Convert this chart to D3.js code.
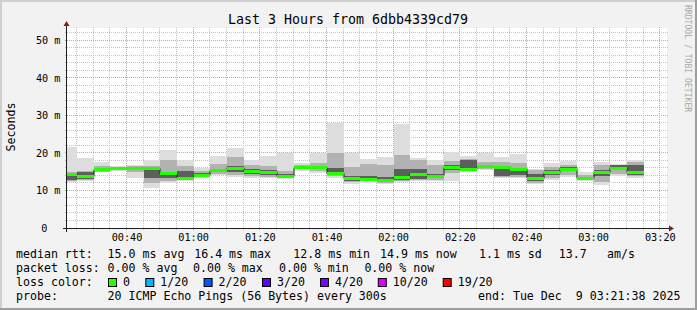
<!DOCTYPE html>
<html><head><meta charset="utf-8">
<script src="https://cdn.jsdelivr.net/npm/d3@7"></script>
<style>
html,body{margin:0;padding:0;background:#f2f2f2;}
svg{display:block;}
text{font-family:"DejaVu Sans Mono",monospace;fill:#000;white-space:pre;}
</style></head><body>
<svg id="c" width="697" height="310"></svg>
<script>
// ---------- data ----------
const title = "Last 3 Hours from 6dbb4339cd79";
const yLabel = "Seconds";
const watermark = "RRDTOOL / TOBI OETIKER";
const rangeStart = "00:22";
const rangeEnd = "03:22";
const binStarts = ["00:20","00:25","00:30","00:35","00:40","00:45","00:50","00:55",
  "01:00","01:05","01:10","01:15","01:20","01:25","01:30","01:35","01:40","01:45","01:50","01:55",
  "02:00","02:05","02:10","02:15","02:20","02:25","02:30","02:35","02:40","02:45","02:50","02:55",
  "03:00","03:05","03:10"];
const binMinutes = 5;
// median rtt (ms)
const median  = [14.4,13.8,15.7,15.9,15.9,15.9,14.6,13.4,14.1,15.4,16.0,15.1,15.0,13.8,16.2,16.2,14.6,13.3,13.1,12.8,13.7,14.4,13.9,16.2,15.8,16.4,16.2,15.8,13.2,14.9,15.8,13.2,14.9,16.0,14.9];
// smoke: outer (min/max ping), middle and inner ping bands (ms)
const outerHi = [21.6,18.7,17.6,16.5,16.7,18.0,20.8,18.1,15.9,19.2,21.4,18.1,19.2,19.9,17.2,20.0,28.0,20.0,18.5,18.9,27.6,18.7,18.2,20.2,19.1,20.0,18.8,19.8,15.8,17.3,17.9,15.0,17.7,17.1,18.2];
const outerLo = [12.2,12.4,14.8,15.2,13.2,10.7,12.0,12.4,13.2,14.1,13.6,13.3,13.2,13.1,15.3,14.7,13.4,11.7,12.0,11.7,12.3,12.4,12.6,12.6,15.0,15.5,13.2,13.2,11.7,12.9,13.7,12.5,11.4,13.8,13.3];
const midHi   = [15.0,15.3,16.4,16.3,16.4,16.5,18.2,16.4,15.2,17.0,19.0,16.9,16.5,15.2,16.8,17.3,20.0,16.2,17.0,16.8,19.4,18.2,16.9,17.8,18.5,17.5,17.7,17.3,15.4,16.2,16.8,14.2,16.8,16.9,17.6];
const midLo   = [12.5,12.7,15.0,15.4,14.8,12.0,12.6,12.8,13.5,14.4,14.2,13.8,13.7,13.4,15.6,15.2,13.9,12.2,12.4,12.1,12.6,12.8,12.9,14.6,15.3,15.8,13.5,13.6,12.1,13.3,14.2,12.8,12.2,14.4,13.8];
const innerHi = [14.6,14.9,16.0,16.1,16.1,16.0,15.0,15.2,14.6,15.8,16.6,15.6,15.4,14.3,16.5,16.6,16.0,13.8,13.8,13.5,15.6,15.6,14.5,16.8,18.2,16.9,16.3,15.9,14.4,15.4,16.2,13.6,15.4,16.9,16.8];
const innerLo = [12.8,13.0,15.2,15.6,15.5,13.4,13.3,13.1,13.8,14.8,14.9,14.4,14.0,13.6,15.9,15.6,14.2,12.6,12.7,12.4,12.9,13.0,13.2,15.4,15.6,16.0,13.8,14.2,12.6,14.1,15.3,13.0,13.8,15.6,14.2];
const yMax = 53.333;
const yTicks = [0,10,20,30,40,50];
const lossLabels = ["0","1/20","2/20","3/20","4/20","10/20","19/20"];
const lossColors = ["#26ff00","#00b8ff","#0059ff","#5e00ff","#7e00ff","#dd00ff","#ff0000"];
const legendRows = [
  [["median rtt:",16],["15.0 ms avg",107.6],["16.4 ms max",194.2],["12.8 ms min",293.3],["14.9 ms now",380],["1.1 ms sd",479],["13.7",558.7],["am/s",607]],
  [["packet loss:",16],["0.00 % avg",107.6],["0.00 % max",193],["0.00 % min",279],["0.00 % now",364.4]],
  [["loss color:",16]],
  [["probe:",16],["20 ICMP Echo Pings (56 Bytes) every 300s",107.6],["end: Tue Dec  9 03:21:38 2025",478]]
];
const lossBoxX = [108,145.3,203.6,262,320,377.8,442.7];

// ---------- layout ----------
const W=697,H=310, X0=67, X1=667, Y0=228, Y1=28;
const svg = d3.select("#c");
const parse = s => { const [h,m]=s.split(":").map(Number); return new Date(2025,11,9,h,m,0); };
const x = d3.scaleTime().domain([parse(rangeStart),parse(rangeEnd)]).range([X0,X1]);
const y = d3.scaleLinear().domain([0,yMax]).range([Y0,Y1]);
const sx = v => Math.floor(v-0.5)+0.5;
const sy = v => Math.floor(v)+0.5;

// background + 3d border
svg.append("rect").attr("width",W).attr("height",H).attr("fill","#f2f2f2");
svg.append("path").attr("d",`M0,0H${W}V2H2V${H}H0Z`).attr("fill","#cfcfcf");
svg.append("path").attr("d",`M${W},${H}H0V${H-2}H${W-2}V0H${W}Z`).attr("fill","#9e9e9e");
// canvas
svg.append("rect").attr("x",X0).attr("y",Y1).attr("width",X1-X0).attr("height",Y0-Y1).attr("fill","#fff");

// grid
const g = svg.append("g");
const t0 = parse(rangeStart), t1 = parse(rangeEnd);
const minorT = d3.timeMinute.every(5).range(t0,t1).filter(t=>t.getMinutes()%20!==0);
const majorT = d3.timeMinute.every(20).range(t0,t1);
const minorY = d3.range(2,yMax,2).filter(v=>v%10!==0);
const majorY = d3.range(10,yMax,10);
g.selectAll(".vmin").data(minorT).join("line")
  .attr("x1",d=>sx(x(d))).attr("x2",d=>sx(x(d))).attr("y1",Y0+2).attr("y2",Y1-2)
  .attr("stroke","#c4c4c4").attr("stroke-dasharray","1,1");
g.selectAll(".hmin").data(minorY).join("line")
  .attr("y1",d=>sy(y(d))).attr("y2",d=>sy(y(d))).attr("x1",X0-2).attr("x2",X1+2)
  .attr("stroke","#c4c4c4").attr("stroke-dasharray","1,1");
g.selectAll(".vmaj").data(majorT).join("line")
  .attr("x1",d=>sx(x(d))).attr("x2",d=>sx(x(d))).attr("y1",Y0+2).attr("y2",Y1-2)
  .attr("stroke","#eb9595").attr("stroke-dasharray","1,1");
g.selectAll(".hmaj").data(majorY).join("line")
  .attr("y1",d=>sy(y(d))).attr("y2",d=>sy(y(d))).attr("x1",X0-2).attr("x2",X1+2)
  .attr("stroke","#eb9595").attr("stroke-dasharray","1,1");

// smoke
svg.append("clipPath").attr("id","plot").append("rect").attr("x",X0).attr("y",Y1).attr("width",X1-X0).attr("height",Y0-Y1);
const plot = svg.append("g").attr("clip-path","url(#plot)");
const bins = binStarts.map((s,i)=>{ const a=parse(s); return {i,a,b:d3.timeMinute.offset(a,binMinutes)}; });
const layers = [[outerLo,outerHi,"#dddddd"],[midLo,midHi,"#b2b2b2"],[innerLo,innerHi,"#5e5e5e"]];
layers.forEach(([lo,hi,col])=>{
  plot.append("g").selectAll("rect").data(bins).join("rect")
    .attr("x",d=>Math.round(x(d.a))).attr("width",d=>Math.round(x(d.b))-Math.round(x(d.a)))
    .attr("y",d=>Math.round(y(hi[d.i]))).attr("height",d=>Math.round(y(lo[d.i]))-Math.round(y(hi[d.i])))
    .attr("fill",col).attr("shape-rendering","crispEdges");
});
// median: thin dark step line + green band
const pts = bins.map(d=>[x(d.a),y(median[d.i])]);
pts.push([x(bins[bins.length-1].b), y(median[median.length-1])]);
plot.append("path").attr("d",d3.line().curve(d3.curveStepAfter)(pts.map(p=>[Math.round(p[0]),Math.floor(p[1])+0.5])))
  .attr("fill","none").attr("stroke","#202020").attr("stroke-width",1);
plot.append("g").selectAll("rect").data(bins).join("rect")
  .attr("x",d=>Math.round(x(d.a))).attr("width",d=>Math.round(x(d.b))-Math.round(x(d.a)))
  .attr("y",d=>Math.round(y(median[d.i]))-1).attr("height",3)
  .attr("fill",lossColors[0]).attr("shape-rendering","crispEdges");

// axes
svg.append("line").attr("x1",X0-4).attr("x2",X1+4).attr("y1",sy(Y0)).attr("y2",sy(Y0)).attr("stroke","#1f1f1f");
svg.append("line").attr("x1",sx(X0)).attr("x2",sx(X0)).attr("y1",Y0+4).attr("y2",Y1-4).attr("stroke","#1f1f1f");
svg.append("path").attr("d",`M${X1+2},${Y0-3+0.5}L${X1+2},${Y0+3+0.5}L${X1+7},${Y0+0.5}Z`).attr("fill","#801f1f");
svg.append("path").attr("d",`M${X0-3-0.5},${Y1-2}L${X0+3-0.5},${Y1-2}L${X0-0.5},${Y1-7}Z`).attr("fill","#801f1f");

// axis labels
svg.append("g").selectAll("text").data(yTicks).join("text")
  .attr("x",d=>d===0?47.5:60.5).attr("y",d=>y(d)+3.7).attr("text-anchor","end")
  .attr("font-size","10.2px").text(d=>d===0?"0":d+" m");
svg.append("g").selectAll("text").data(majorT).join("text")
  .attr("x",d=>x(d)).attr("y",241.3).attr("text-anchor","middle")
  .attr("font-size","10.2px").text(d3.timeFormat("%H:%M"));

// title, y title, watermark
svg.append("text").attr("x",348).attr("y",24).attr("text-anchor","middle").attr("font-size","13.3px").text(title);
svg.append("text").attr("transform","translate(15,127) rotate(-90)").attr("text-anchor","middle").attr("font-size","11.6px").text(yLabel);
svg.append("text").attr("transform","translate(684.5,5) rotate(90)").attr("font-size","8.1px").style("fill","#a8a8a8").text(watermark);

// legend
legendRows.forEach((row,r)=>{
  row.forEach(([s,px])=>svg.append("text").attr("x",px).attr("y",258+14*r).attr("font-size","11.6px").text(s));
});
lossLabels.forEach((lab,i)=>{
  svg.append("rect").attr("x",lossBoxX[i]+0.5).attr("y",278.5).attr("width",8).attr("height",8)
    .attr("fill",lossColors[i]).attr("stroke","#000").attr("stroke-width",1);
  svg.append("text").attr("x",lossBoxX[i]+15).attr("y",286).attr("font-size","11.6px").text(lab);
});
</script>
</body></html>
